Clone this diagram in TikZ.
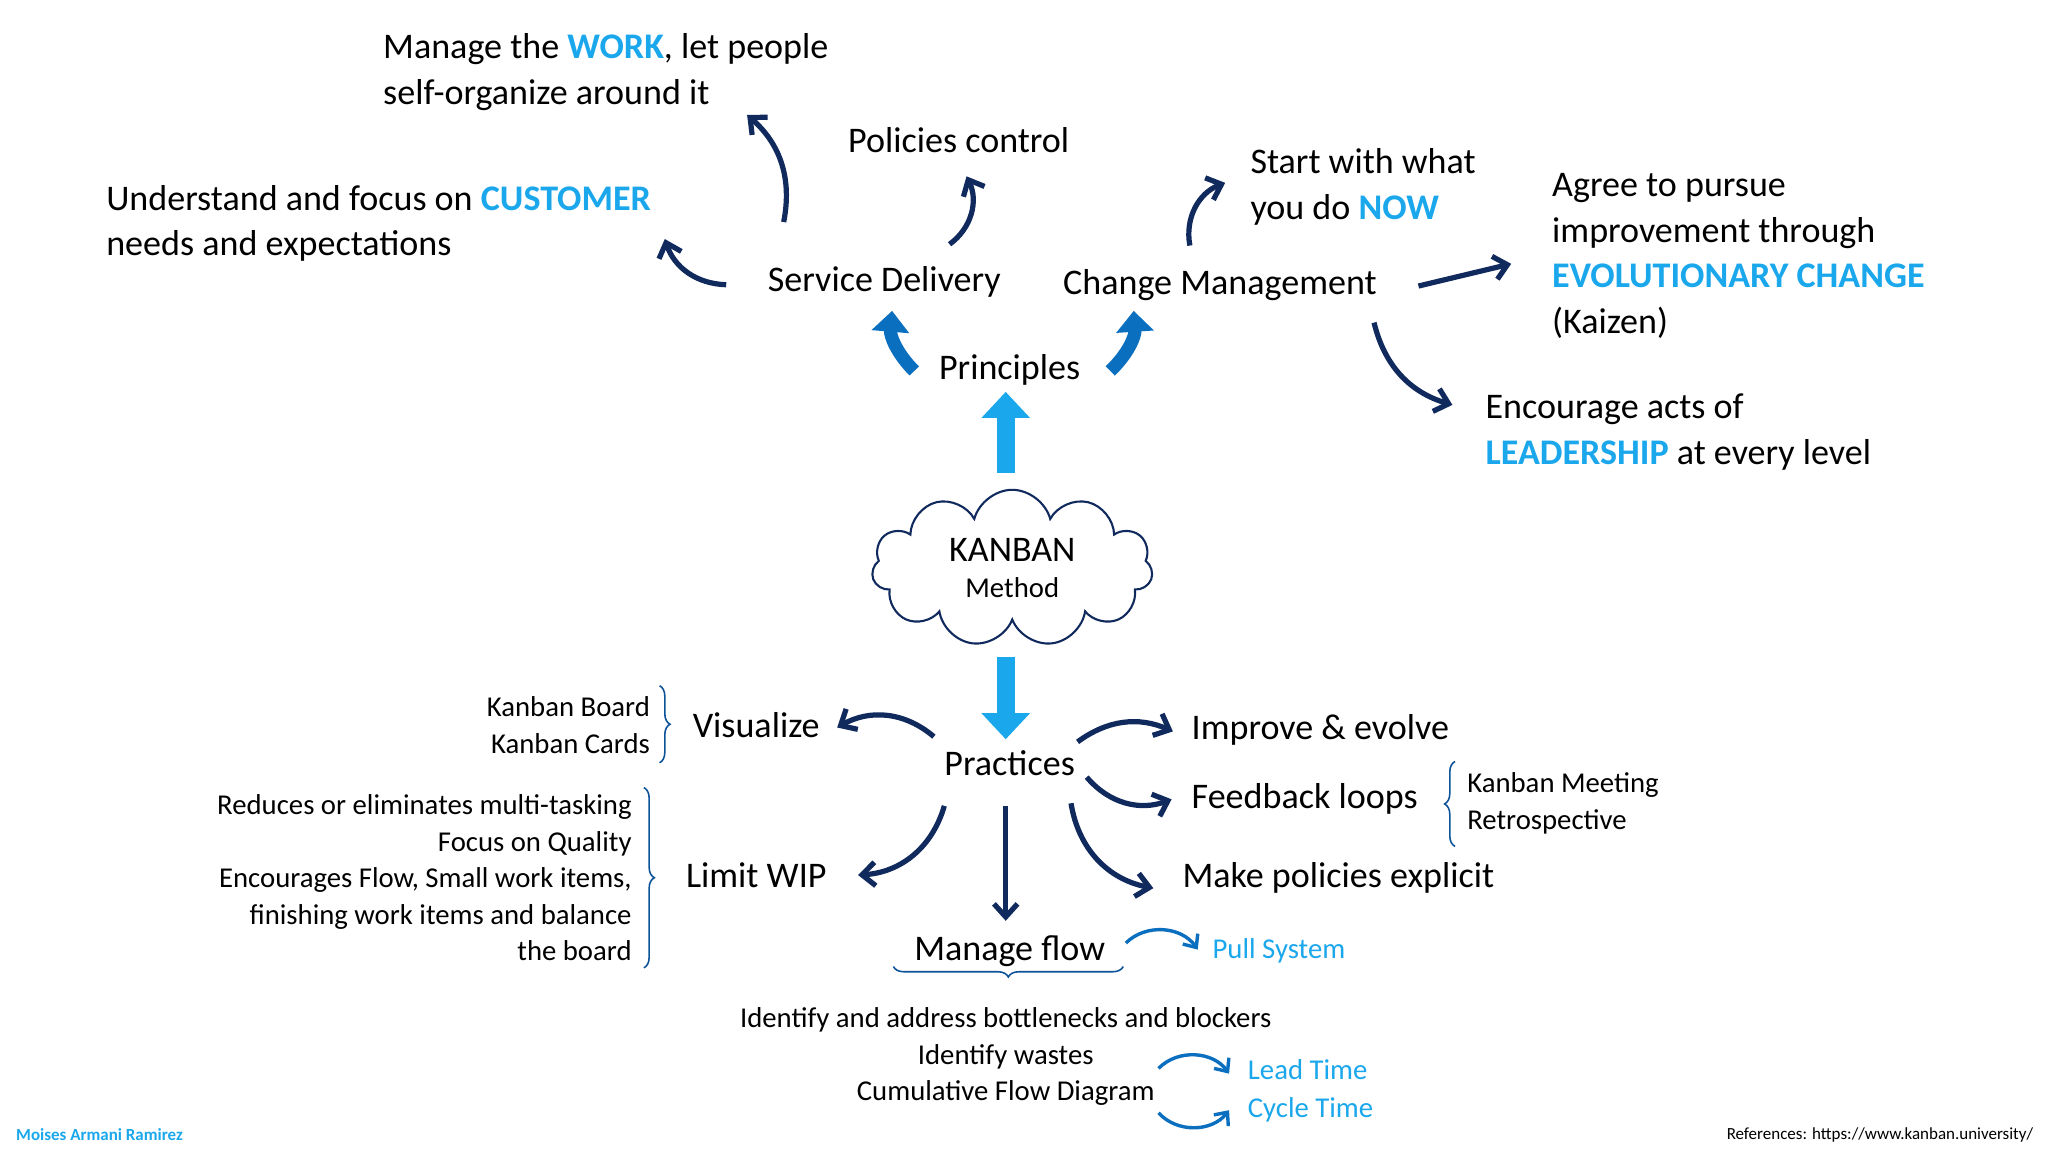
\documentclass[tikz,border=0pt]{standalone}
\usepackage{fontspec}
\setmainfont{Carlito}
\usetikzlibrary{arrows.meta,shapes.symbols,decorations.pathreplacing}
\definecolor{navy}{HTML}{112A5E}
\definecolor{sky}{HTML}{1AA7EC}
\definecolor{mid}{HTML}{0B6FC0}
\begin{document}
\begin{tikzpicture}[x=0.5pt,y=-0.5pt,
  big/.style={font=\fontsize{13.8}{17.5}\selectfont,inner sep=0pt},
  small/.style={font=\fontsize{11}{14}\selectfont,inner sep=0pt},
  nav/.style={draw=navy,line width=2pt,-{Straight Barb[length=5pt,width=9pt,line width=2pt]}},
  blu/.style={draw=mid,line width=1.3pt,-{Straight Barb[length=4pt,width=7pt,line width=1.3pt]}},
  fat/.style={draw=mid,line width=5pt,-{Triangle[length=8pt,width=14pt]}},
  brace/.style={draw=mid!60!navy,line width=0.6pt,decorate,decoration={brace,amplitude=4pt}}]
\fill[white] (0,0) rectangle (1568,882);
% top texts
\node[big,anchor=west,align=left] (work) at (293,55) {Manage the {\color{sky}\bfseries WORK}, let people\\self-organize around it};
\node[big] (pol) at (734,107) {Policies control};
\node[big,anchor=west,align=left] (cust) at (81,171) {Understand and focus on {\color{sky}\bfseries CUSTOMER}\\needs and expectations};
\node[big,anchor=west,align=left] (now) at (957,143) {Start with what\\you do {\color{sky}\bfseries NOW}};
\node[big,anchor=west,align=left] (evo) at (1188,196) {Agree to pursue\\improvement through\\{\color{sky}\bfseries EVOLUTIONARY CHANGE}\\(Kaizen)};
\node[big,anchor=west,align=left] (lead) at (1137,331) {Encourage acts of\\{\color{sky}\bfseries LEADERSHIP} at every level};
\node[big] (sd) at (677,216) {Service Delivery};
\node[big] (cm) at (934,218) {Change Management};
\node[big] (pr) at (773,283) {Principles};
\node[cloud,cloud puffs=11,aspect=1.7,draw=navy,line width=0.8pt,minimum width=215pt*0.5,minimum height=120pt*0.5,align=center,inner sep=0pt] (k) at (775,435) {{\fontsize{13.8}{17}\selectfont KANBAN}\\[2pt]{\fontsize{11}{13}\selectfont Method}};
% practices
\node[big] (pc) at (773,584) {Practices};
\node[big] (vis) at (579,555) {Visualize};
\node[big,anchor=west] (imp) at (912,559) {Improve \& evolve};
\node[big,anchor=west] (fb) at (912,612) {Feedback loops};
\node[big,anchor=west] (mpe) at (905,672) {Make policies explicit};
\node[big] (wip) at (579,670) {Limit WIP};
\node[big] (mf) at (773,728) {Manage flow};
\node[small,text=sky,anchor=west] (pull) at (928,728) {Pull System};
\node[small,anchor=east,align=right] (kb) at (498,555) {Kanban Board\\Kanban Cards};
\node[small,anchor=east,align=right] (wl) at (484,672) {Reduces or eliminates  multi-tasking\\Focus on Quality\\Encourages Flow, Small work items,\\finishing work items and balance\\the board};
\node[small,anchor=west,align=left] (fl) at (1123,615) {Kanban Meeting\\Retrospective};
\node[small,align=center] (bl) at (770,809) {Identify and address bottlenecks and blockers\\Identify wastes\\Cumulative Flow Diagram};
\node[small,text=sky,anchor=west] (lt) at (955,819) {Lead Time};
\node[small,text=sky,anchor=west] (ct) at (955,850) {Cycle Time};
\node[font=\fontsize{6.5}{7}\selectfont\bfseries,text=sky,anchor=west,inner sep=0pt] (auth) at (12,869) {Moises Armani Ramirez};
\node[font=\fontsize{6.5}{7}\selectfont,anchor=east,inner sep=0pt] (ref) at (1557,869) {References: https://www.kanban.university/};
% braces
\draw[brace] (505,525) -- (505,584);
\draw[brace] (493,603) -- (493,741);
\draw[brace] (1114,648) -- (1114,583);
\draw[brace] (860,740) -- (684,740);
% big blue arrows
\coordinate (k1) at (770,362); \coordinate (k2) at (770,300);
\draw[color=sky,line width=7pt,-{Triangle[length=10pt,width=18pt]}] (k1) -- (k2);
\coordinate (k3) at (770,503); \coordinate (k4) at (770,566);
\draw[color=sky,line width=7pt,-{Triangle[length=10pt,width=18pt]}] (k3) -- (k4);
\coordinate (p1) at (700,284); \coordinate (p2) at (683,238);
\draw[fat] (p1) to[bend left=25] (p2);
\coordinate (p3) at (850,284); \coordinate (p4) at (868,238);
\draw[fat] (p3) to[bend right=25] (p4);
% navy arrows top
\coordinate (a1) at (556,218); \coordinate (a2) at (509,183);
\draw[nav] (a1) to[bend left=35] (a2);
\coordinate (a3) at (600,170); \coordinate (a4) at (572,88);
\draw[nav] (a3) to[bend right=30] (a4);
\coordinate (a5) at (727,187); \coordinate (a6) at (740,135);
\draw[nav] (a5) to[bend right=40] (a6);
\coordinate (a7) at (911,188); \coordinate (a8) at (938,140);
\draw[nav] (a7) to[bend left=40] (a8);
\coordinate (a9) at (1086,219); \coordinate (a10) at (1157,202);
\draw[nav] (a9) -- (a10);
\coordinate (a11) at (1052,247); \coordinate (a12) at (1112,310);
\draw[nav] (a11) to[bend right=30] (a12);
% practices arrows
\coordinate (b1) at (715,564); \coordinate (b2) at (641,557);
\draw[nav] (b1) to[bend right=35] (b2);
\coordinate (b3) at (825,568); \coordinate (b4) at (898,560);
\draw[nav] (b3) to[bend left=30] (b4);
\coordinate (b5) at (832,595); \coordinate (b6) at (897,612);
\draw[nav] (b5) to[bend right=35] (b6);
\coordinate (b7) at (820,615); \coordinate (b8) at (883,680);
\draw[nav] (b7) to[bend right=35] (b8);
\coordinate (b9) at (723,617); \coordinate (b10) at (657,670);
\draw[nav] (b9) to[bend left=35] (b10);
\coordinate (b11) at (770,617); \coordinate (b12) at (770,705);
\draw[nav] (b11) -- (b12);
% blue small arrows
\coordinate (c1) at (862,722); \coordinate (c2) at (917,727);
\draw[blu] (c1) to[bend left=50] (c2);
\coordinate (c3) at (887,818); \coordinate (c4) at (941,822);
\draw[blu] (c3) to[bend left=50] (c4);
\coordinate (c5) at (887,852); \coordinate (c6) at (941,850);
\draw[blu] (c5) to[bend right=50] (c6);
\end{tikzpicture}
\end{document}
